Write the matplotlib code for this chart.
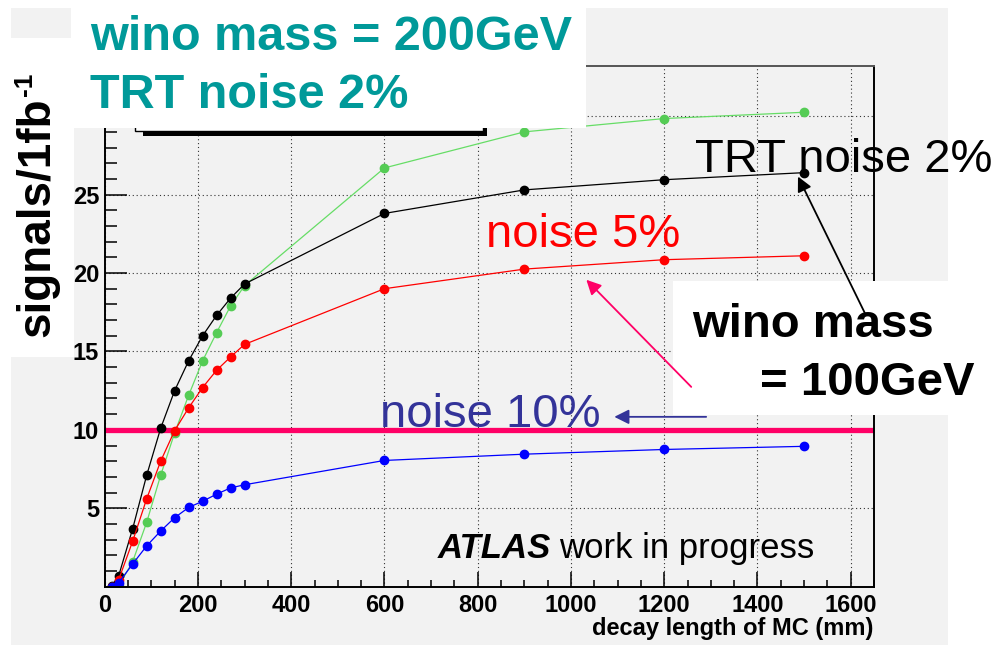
import matplotlib
matplotlib.use("Agg")
import matplotlib.pyplot as plt
from matplotlib.patches import Rectangle, FancyArrowPatch
from matplotlib.ticker import MultipleLocator

plt.rcParams['font.family'] = ['Liberation Sans', 'DejaVu Sans']

# ---------------------------
# Data
# ---------------------------
decay_length = [15, 30, 60, 90, 120, 150, 180, 210, 240, 270, 300, 600, 900, 1200, 1500]
noise2_100 = [0.05, 0.7, 3.7, 7.1, 10.1, 12.5, 14.4, 16.0, 17.3, 18.4, 19.3, 23.8, 25.3, 25.95, 26.4]
noise2_200 = [0.0, 0.05, 1.6, 4.1, 7.1, 9.8, 12.2, 14.4, 16.2, 17.9, 19.2, 26.7, 29.0, 29.85, 30.25]
noise5_100 = [0.0, 0.45, 2.9, 5.6, 8.0, 9.95, 11.4, 12.7, 13.8, 14.65, 15.45, 19.0, 20.25, 20.85, 21.1]
noise10_100 = [0.0, 0.25, 1.45, 2.6, 3.55, 4.4, 5.05, 5.45, 5.9, 6.3, 6.5, 8.05, 8.45, 8.75, 8.95]
threshold = 10

x_ticks = [0, 200, 400, 600, 800, 1000, 1200, 1400, 1600]
y_ticks = [5, 10, 15, 20, 25, 30]
y_labels = ['5', '10', '15', '20', '25', '']  # 30 is hidden under the title box

# ---------------------------
# Helpers: figure pixel -> figure fraction
# ---------------------------
W, H = 1000, 646
def fx(x):
    return x / W
def fy(y):
    return 1 - y / H

def box(fig, x0, y0, x1, y1, z, **kw):
    r = Rectangle((fx(x0), fy(y1)), (x1 - x0) / W, (y1 - y0) / H,
                  transform=fig.transFigure, zorder=z, **kw)
    fig.add_artist(r)
    return r

fig = plt.figure(figsize=(10, 6.46), dpi=100)
fig.patch.set_facecolor('white')

canvas = '#f2f2f2'
box(fig, 11, 8, 948, 645, -5, facecolor=canvas, edgecolor='none')

# ---------------------------
# Axes
# ---------------------------
ax = fig.add_axes([fx(104.7), fy(586.7), (874 - 104.7) / W, (586.7 - 66) / H])
ax.set_facecolor(canvas)
ax.set_xlim(0, 1650)
ax.set_ylim(0, 33.2)

ax.set_xticks(x_ticks)
ax.set_yticks(y_ticks, y_labels)
ax.xaxis.set_minor_locator(MultipleLocator(50))
ax.yaxis.set_minor_locator(MultipleLocator(1))
ax.tick_params(axis='x', which='major', direction='in', length=11, width=1.1, pad=5,
               labelsize=17)
ax.tick_params(axis='x', which='minor', direction='in', length=5.4, width=1.1)
ax.tick_params(axis='y', which='major', direction='in', length=16, width=1.1, pad=4,
               labelsize=17)
ax.tick_params(axis='y', which='minor', direction='in', length=8.3, width=1.1)
for lab in ax.get_xticklabels() + ax.get_yticklabels():
    lab.set_fontweight('bold')
for s in ax.spines.values():
    s.set_linewidth(1.4)
    s.set_color('black')
ax.spines['top'].set_color('#555555')

ax.set_axisbelow(True)
ax.grid(True, which='major', linestyle=(0, (1, 2.5)), color='#333333', lw=0.8)

ax.axhline(threshold, color='#ff0066', lw=3.8, zorder=1.5)

series = [
    (noise2_200, '#66dd66', '#55cc55'),
    (noise2_100, 'black', 'black'),
    (noise5_100, '#ff0000', '#ff0000'),
    (noise10_100, '#0000ff', '#0000ff'),
]
for vals, lc, mc in series:
    ax.plot(decay_length, vals, color=lc, lw=0.9, marker='o', ms=6,
            markerfacecolor=mc, markeredgecolor=mc, zorder=2)

# ---------------------------
# Overlay boxes (slide cover-ups)
# ---------------------------
# legend remnant below title box
box(fig, 143, 60, 487, 136, 1, facecolor='black', edgecolor='none')
box(fig, 135, 60, 483, 131, 1, facecolor='white', edgecolor='black', lw=1)
box(fig, 71, 0, 586, 128, 2, facecolor='white', edgecolor='none')
box(fig, 11, 38, 74, 357, 2, facecolor='white', edgecolor='none')
box(fig, 673, 281, 1000, 415, 2, facecolor='white', edgecolor='none')
box(fig, 948, 0, 1000, 646, 2, facecolor='white', edgecolor='none')

# ---------------------------
# Arrows
# ---------------------------
arrows = [
    ((1630, 17.47), (1487, 26.15), 'black'),
    ((1258, 12.74), (1033, 19.57), '#ff0066'),
    ((1290, 10.83), (1093, 10.83), '#333399'),
]
for tail, head, c in arrows:
    a = FancyArrowPatch(tail, head, transform=ax.transData, arrowstyle='-|>',
                        mutation_scale=22, lw=1.3, color=c, shrinkA=0, shrinkB=0,
                        zorder=3)
    fig.add_artist(a)

# ---------------------------
# Texts
# ---------------------------
teal = '#009999'
fig.text(fx(90), fy(50), 'wino mass = 200GeV', color=teal, fontsize=35,
         fontweight='bold', va='baseline', zorder=4)
fig.text(fx(90), fy(108), 'TRT noise 2%', color=teal, fontsize=35,
         fontweight='bold', va='baseline', zorder=4)
# y label with a small raised "-1"
fig.text(fx(49), fy(337), 'signals/1fb', fontsize=33, fontweight='bold',
         rotation=90, ha='left', va='baseline', rotation_mode='anchor', zorder=4)
fig.text(fx(32), fy(96), '-1', fontsize=19, fontweight='bold',
         rotation=90, ha='left', va='baseline', rotation_mode='anchor', zorder=4)

fig.text(fx(695), fy(172), 'TRT noise 2%', color='black', fontsize=34,
         va='baseline', zorder=4)
fig.text(fx(486), fy(247), 'noise 5%', color='#ff0000', fontsize=34,
         va='baseline', zorder=4)
fig.text(fx(380), fy(427), 'noise 10%', color='#333399', fontsize=34,
         va='baseline', zorder=4)
fig.text(fx(692), fy(337), 'wino mass', color='black', fontsize=34,
         fontweight='bold', va='baseline', zorder=4)
fig.text(fx(760), fy(395), '= 100GeV', color='black', fontsize=34,
         fontweight='bold', va='baseline', zorder=4)

fig.text(fx(438), fy(558), 'ATLAS', fontsize=25, fontweight='bold',
         fontstyle='italic', va='baseline', zorder=4)
fig.text(fx(559), fy(558), 'work in progress', fontsize=25,
         va='baseline', zorder=4)

fig.text(fx(873), fy(635), 'decay length of MC (mm)', fontsize=17,
         fontweight='bold', ha='right', va='baseline', zorder=4)

fig.savefig('out.png', dpi=100)
